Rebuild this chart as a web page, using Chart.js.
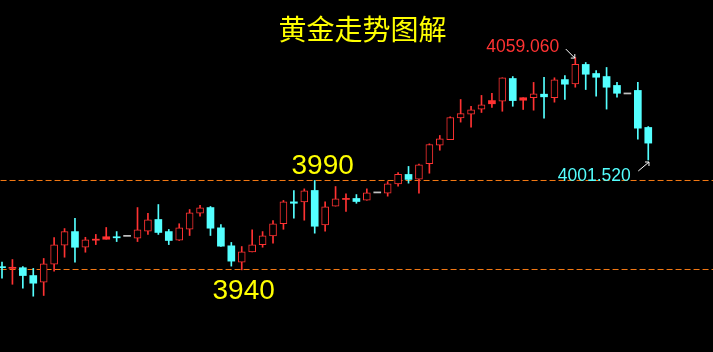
<!DOCTYPE html>
<html>
<head>
<meta charset="utf-8">
<script src="https://cdn.jsdelivr.net/npm/chart.js@4/dist/chart.umd.min.js"></script>
<style>
html,body{margin:0;padding:0;background:#000;overflow:hidden}
canvas{display:block}
</style>
</head>
<body>
<canvas id="c" width="713" height="352"></canvas>
<script>
// ---- data ----
const candleIndex = [0,1,2,3,4,5,6,7,8,9,10,11,12,13,14,15,16,17,18,19,20,21,22,23,24,25,26,27,28,29,30,31,32,33,34,35,36,37,38,39,40,41,42,43,44,45,46,47,48,49,50,51,52,53,54,55,56,57,58,59,60,61,62];
const opens  = [3941.4,3940.8,3941.0,3936.6,3932.9,3943.0,3953.7,3961.3,3952.5,3956.6,3957.0,3958.2,3958.9,3957.6,3961.5,3968.1,3961.3,3956.5,3962.6,3971.6,3974.8,3963.4,3953.3,3944.1,3949.9,3953.9,3958.9,3965.7,3978.0,3978.0,3984.4,3965.1,3975.6,3979.5,3979.9,3978.9,3983.3,3982.9,3988.1,3993.4,3990.7,3999.4,4009.8,4013.0,4025.2,4027.2,4030.1,4033.1,4034.6,4047.3,4035.1,4036.5,4038.5,4036.5,4046.7,4044.3,4055.2,4050.1,4048.4,4043.4,4038.9,4040.6,4019.8];
const highs  = [3944.1,3945.6,3941.7,3940.6,3946.2,3958.0,3963.0,3968.7,3958.1,3959.7,3963.6,3961.3,3958.9,3974.8,3971.5,3976.5,3962.5,3965.7,3973.7,3976.0,3975.4,3965.3,3955.2,3952.9,3962.3,3961.3,3967.5,3978.8,3984.4,3985.3,3990.0,3978.0,3986.6,3982.5,3982.1,3985.3,3983.3,3989.4,3994.5,3997.9,3999.2,4010.6,4015.3,4025.8,4035.5,4031.6,4037.8,4038.9,4047.7,4048.4,4036.5,4045.1,4047.9,4047.7,4049.0,4059.06,4056.3,4051.8,4053.5,4045.1,4038.9,4045.1,4020.3];
const lows   = [3935.1,3931.7,3929.5,3925.0,3925.4,3939.0,3946.9,3944.1,3949.7,3954.0,3957.0,3955.7,3958.9,3955.7,3959.7,3959.7,3954.0,3956.3,3959.1,3969.9,3959.1,3952.9,3941.9,3939.8,3949.9,3952.5,3954.8,3962.6,3968.8,3967.7,3960.4,3961.5,3975.6,3972.6,3977.2,3978.9,3983.3,3981.2,3986.8,3988.5,3982.9,3994.1,4007.0,4013.0,4022.8,4019.9,4028.2,4031.0,4028.9,4031.7,4029.9,4029.5,4025.0,4034.0,4035.5,4042.4,4041.1,4037.4,4030.1,4036.8,4038.9,4013.2,4001.52];
const closes = [3941.2,3941.1,3936.6,3932.3,3943.2,3953.9,3961.3,3952.5,3956.7,3956.9,3958.4,3958.0,3958.9,3962.3,3967.9,3960.8,3956.3,3963.4,3971.9,3974.7,3963.2,3953.1,3944.7,3949.9,3953.9,3958.9,3965.7,3978.0,3977.2,3984.2,3964.3,3975.2,3979.7,3979.8,3978.2,3983.1,3983.3,3988.1,3993.4,3990.6,3998.8,4010.2,4013.4,4025.4,4027.6,4029.7,4032.5,4034.9,4047.7,4034.9,4036.5,4038.7,4037.0,4046.6,4044.1,4055.2,4049.7,4048.0,4042.4,4039.0,4038.9,4019.4,4011.0];
const levelLines  = [3990, 3940];
const levelLabels = ['3990', '3940'];
const titleText = '黄金走势图解';
const highLabel = '4059.060';
const lowLabel  = '4001.520';

// ---- styles ----
const UP = '#ff3232', DOWN = '#54ffff', FLAT = '#c0c0c0', BG = '#000000';
const LEVEL_COLOR = '#f57a14';

function colorOf(i){
  if (closes[i] > opens[i]) return UP;
  if (closes[i] < opens[i]) return DOWN;
  return FLAT;
}

const bodyData = candleIndex.map(i => {
  let lo = Math.min(opens[i], closes[i]);
  let hi = Math.max(opens[i], closes[i]);
  if (hi - lo < 0.6) { const m = (hi + lo) / 2; lo = m - 0.3; hi = m + 0.3; }
  return { x: i, y: [lo, hi] };
});
const bodyBorder = candleIndex.map(colorOf);
const bodyFill = candleIndex.map(i => (closes[i] - opens[i] >= 2) ? BG : colorOf(i));
const bodyBorderW = candleIndex.map(i => (closes[i] - opens[i] >= 2) ? 1 : 0);

const wickData = candleIndex.map(i => (highs[i] === lows[i]) ? { x: i, y: null } : { x: i, y: [lows[i], highs[i]] });
const wickColor = candleIndex.map(colorOf);

const levelSets = levelLines.map(v => ({
  type: 'line',
  data: [{ x: -1, y: v }, { x: 70, y: v }],
  borderColor: LEVEL_COLOR,
  borderWidth: 1,
  borderDash: [6, 3],
  pointRadius: 0,
  fill: false,
  order: 2
}));

function arrow(ctx, x1, y1, x2, y2, hx, hy){
  ctx.beginPath();
  ctx.moveTo(x1, y1); ctx.lineTo(x2, y2);
  ctx.moveTo(x2, y2); ctx.lineTo(x2 + hx, y2);
  ctx.moveTo(x2, y2); ctx.lineTo(x2, y2 + hy);
  ctx.stroke();
}

const annot = {
  id: 'annot',
  afterDatasetsDraw(chart){
    const ctx = chart.ctx, xs = chart.scales.x, ys = chart.scales.y;
    ctx.save();
    ctx.fillStyle = '#ffff00';
    ctx.textBaseline = 'alphabetic';
    ctx.font = '28px "Noto Sans CJK SC"';
    ctx.textAlign = 'center';
    ctx.fillText(titleText, 362.5, 40);

    ctx.textAlign = 'left';
    ctx.font = '28px "Liberation Sans"';
    ctx.fillText(levelLabels[0], 291.5, ys.getPixelForValue(levelLines[0]) - 6);
    ctx.fillText(levelLabels[1], 212.5, ys.getPixelForValue(levelLines[1]) + 30);

    const hiIdx = highs.indexOf(Math.max(...highs));
    let loIdx = hiIdx;
    for (let i = hiIdx; i < lows.length; i++) if (lows[i] < lows[loIdx]) loIdx = i;
    const hx = xs.getPixelForValue(hiIdx), hy = ys.getPixelForValue(highs[hiIdx]);
    const lx = xs.getPixelForValue(loIdx), ly = ys.getPixelForValue(lows[loIdx]);

    ctx.font = '17.5px "Liberation Sans"';
    ctx.fillStyle = UP;
    ctx.fillText(highLabel, hx - 89, hy - 5.5);
    ctx.fillStyle = DOWN;
    ctx.fillText(lowLabel, lx - 90.5, ly + 21.5);

    ctx.strokeStyle = '#ffffff';
    ctx.lineWidth = 1;
    arrow(ctx, hx - 9.5, hy - 8.5, hx - 0.5, hy + 0.5, -4, -4);
    arrow(ctx, lx - 10, ly + 11, lx + 0.7, ly + 2, -4, 4);
    ctx.restore();
  }
};

new Chart(document.getElementById('c'), {
  type: 'bar',
  data: {
    datasets: [
      {
        data: bodyData,
        backgroundColor: bodyFill,
        borderColor: bodyBorder,
        borderWidth: bodyBorderW,
        borderSkipped: false,
        barThickness: 7,
        grouped: false,
        order: 0
      },
      {
        data: wickData,
        backgroundColor: wickColor,
        borderWidth: 0,
        barThickness: 1,
        grouped: false,
        order: 1
      },
      ...levelSets
    ]
  },
  options: {
    responsive: false,
    animation: false,
    devicePixelRatio: 1,
    layout: { padding: 0 },
    plugins: { legend: { display: false }, tooltip: { enabled: false }, title: { display: false } },
    scales: {
      x: { type: 'linear', min: -0.192, max: 68.21, display: false, offset: false, grid: { display: false } },
      y: { min: 3893.65, max: 4091.40, display: false, grid: { display: false } }
    }
  },
  plugins: [annot]
});
</script>
</body>
</html>
